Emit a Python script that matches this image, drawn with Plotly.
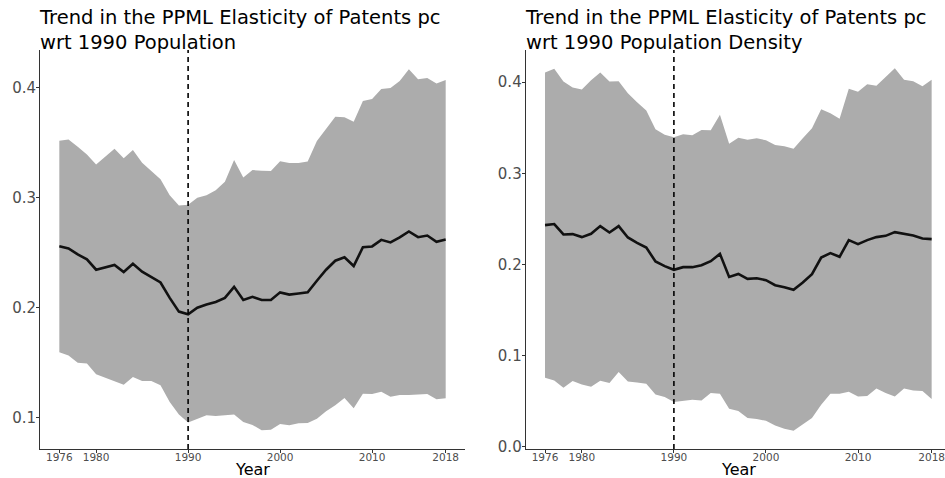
import plotly.graph_objects as go

# years 1976-2018
years = list(range(1976, 2019))

# panel 1: 1990 population
pop_est = [0.256, 0.254, 0.2485, 0.244, 0.2346, 0.237, 0.239, 0.2325, 0.240, 0.2328,
           0.228, 0.223, 0.209, 0.1965, 0.194, 0.200, 0.203, 0.2053, 0.209, 0.219,
           0.207, 0.210, 0.207, 0.207, 0.214, 0.212, 0.213, 0.214, 0.2246, 0.2346,
           0.2428, 0.246, 0.238, 0.255, 0.2558, 0.2618, 0.2594, 0.264, 0.2694, 0.2642,
           0.2657, 0.260, 0.262]
pop_hi = [0.352, 0.353, 0.3465, 0.3395, 0.3304, 0.3374, 0.3447, 0.336, 0.3435, 0.332,
          0.3247, 0.3168, 0.3023, 0.293, 0.2938, 0.300, 0.3023, 0.307, 0.3147, 0.3344,
          0.3184, 0.3253, 0.3247, 0.3244, 0.3332, 0.3317, 0.3317, 0.333, 0.3516, 0.3628,
          0.3737, 0.3734, 0.3692, 0.3882, 0.390, 0.3991, 0.400, 0.4064, 0.4169, 0.4079,
          0.4091, 0.404, 0.4073]
pop_lo = [0.1596, 0.1566, 0.150, 0.1493, 0.1394, 0.1363, 0.1333, 0.130, 0.137, 0.1333,
          0.1333, 0.1294, 0.1142, 0.103, 0.0955, 0.0985, 0.1021, 0.1015, 0.1021, 0.103,
          0.096, 0.0934, 0.0885, 0.0891, 0.0943, 0.093, 0.0949, 0.0952, 0.0991, 0.1058,
          0.1112, 0.1179, 0.1085, 0.1218, 0.1215, 0.1236, 0.1191, 0.1206, 0.1206, 0.1209,
          0.1215, 0.1167, 0.1176]

# panel 2: 1990 population density
den_est = [0.2431, 0.2442, 0.2328, 0.2332, 0.2299, 0.2335, 0.242, 0.235, 0.242, 0.2295,
           0.2236, 0.2185, 0.2031, 0.198, 0.194, 0.1969, 0.1969, 0.199, 0.2035, 0.2115,
           0.1862, 0.1895, 0.184, 0.1848, 0.1826, 0.1771, 0.1749, 0.172, 0.180, 0.1892,
           0.2075, 0.2123, 0.2083, 0.2266, 0.2222, 0.2266, 0.2299, 0.2313, 0.2354, 0.2339,
           0.2317, 0.2284, 0.2277]
den_hi = [0.4106, 0.4147, 0.4007, 0.3941, 0.3919, 0.4022, 0.4106, 0.4007, 0.4011, 0.3879,
          0.378, 0.3688, 0.3483, 0.3424, 0.3395, 0.3428, 0.3417, 0.3476, 0.3472, 0.3641,
          0.3325, 0.3391, 0.3369, 0.3384, 0.3362, 0.3311, 0.3296, 0.327, 0.3384, 0.3494,
          0.3703, 0.3659, 0.3597, 0.3927, 0.3894, 0.3978, 0.396, 0.4055, 0.4154, 0.4026,
          0.4011, 0.3956, 0.4026]
den_lo = [0.0755, 0.0726, 0.0645, 0.0719, 0.0682, 0.0656, 0.0722, 0.0697, 0.0818, 0.0715,
          0.0704, 0.0689, 0.0572, 0.0543, 0.0488, 0.0502, 0.0513, 0.0506, 0.0587, 0.0579,
          0.0414, 0.0389, 0.0312, 0.0301, 0.0282, 0.0231, 0.0194, 0.0172, 0.0242, 0.0312,
          0.0458, 0.0579, 0.0579, 0.0601, 0.055, 0.0554, 0.0638, 0.0587, 0.055, 0.0638,
          0.0616, 0.0609, 0.0521]

x_ticks = [1976, 1980, 1990, 2000, 2010, 2018]
titles = ["Trend in the PPML Elasticity of Patents pc<br>wrt 1990 Population",
          "Trend in the PPML Elasticity of Patents pc<br>wrt 1990 Population Density"]

W, H = 945, 478
FONT = "DejaVu Sans"
BAND = "#acacac"

fig = go.Figure()

panels = [(pop_est, pop_lo, pop_hi, "x", "y"), (den_est, den_lo, den_hi, "x2", "y2")]
for est, lo, hi, xa, ya in panels:
    fig.add_trace(go.Scatter(x=years, y=lo, mode="lines", line=dict(width=0),
                             xaxis=xa, yaxis=ya, showlegend=False, hoverinfo="skip"))
    fig.add_trace(go.Scatter(x=years, y=hi, mode="lines", line=dict(width=0),
                             fill="tonexty", fillcolor=BAND,
                             xaxis=xa, yaxis=ya, showlegend=False, hoverinfo="skip"))
    fig.add_trace(go.Scatter(x=years, y=est, mode="lines",
                             line=dict(color="#111111", width=2.6),
                             xaxis=xa, yaxis=ya, showlegend=False))
    fig.add_shape(type="line", x0=1990, x1=1990, y0=0, y1=1,
                  xref=xa, yref=ya + " domain",
                  line=dict(color="black", width=1.6, dash="5px,4px"))

ydom = [(H - 449) / H, (H - 50) / H]
axis_common = dict(showgrid=False, zeroline=False, showline=True, linecolor="#333333",
                   linewidth=1, ticks="outside", ticklen=3, tickcolor="#333333",
                   automargin=False, ticklabeloverflow="allow")
xfont = dict(size=10.5, color="#4d4d4d")
yfont = dict(size=15, color="#4d4d4d")

fig.update_layout(
    width=W, height=H,
    margin=dict(l=0, r=0, t=0, b=0),
    plot_bgcolor="white", paper_bgcolor="white",
    font=dict(family=FONT, color="#4d4d4d"),
    xaxis=dict(domain=[40 / W, 465 / W], range=[1973.9, 2020.1], tickvals=x_ticks,
               tickfont=xfont, ticklabelstandoff=-5, anchor="y", **axis_common),
    yaxis=dict(domain=ydom, range=[0.0715, 0.4345], tickvals=[0.1, 0.2, 0.3, 0.4],
               tickformat=".1f", tickfont=yfont, ticklabelstandoff=-3, anchor="x",
               **axis_common),
    xaxis2=dict(domain=[525.7 / W, 1.0], range=[1973.9, 2019.45], tickvals=x_ticks,
                tickfont=xfont, ticklabelstandoff=-5, anchor="y2", **axis_common),
    yaxis2=dict(domain=ydom, range=[-0.0027, 0.4353], tickvals=[0.0, 0.1, 0.2, 0.3, 0.4],
                tickformat=".1f", tickfont=yfont, ticklabelstandoff=-3, anchor="x2",
                **axis_common),
)

for t, x0 in zip(titles, [37, 522.7]):
    fig.add_annotation(text=t, xref="paper", yref="paper", x=x0 / W, y=1 - 4 / H,
                       xanchor="left", yanchor="top", align="left", showarrow=False,
                       font=dict(family=FONT, size=19.5, color="black"))

for xc in [252.5, 738.5]:
    fig.add_annotation(text="Year", xref="paper", yref="paper", x=xc / W, y=1 - 469 / H,
                       xanchor="center", yanchor="middle", showarrow=False,
                       font=dict(family=FONT, size=16, color="black"))

# drop the browser's default body margin so the figure sits at (0, 0)
fig.write_html("out.html", config={"displayModeBar": False},
               post_script="document.body.style.margin = '0';")
